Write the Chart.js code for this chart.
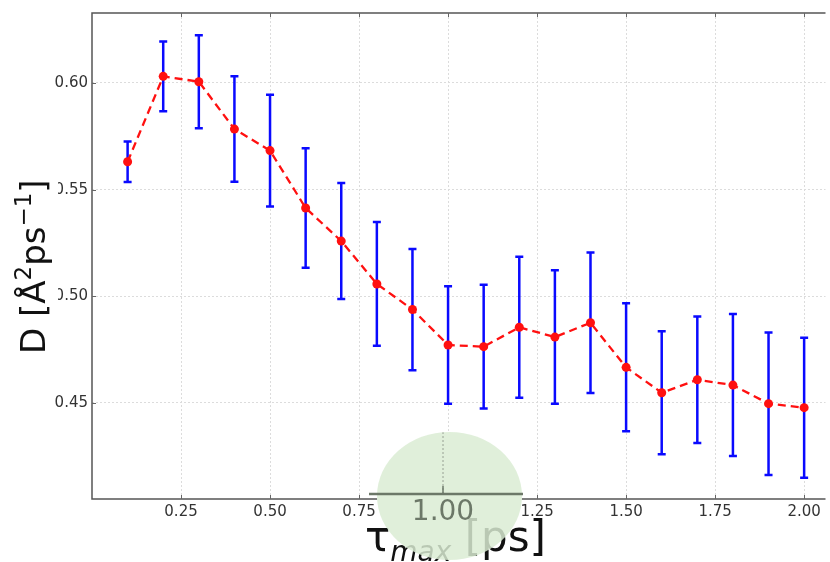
<!DOCTYPE html>
<html>
<head>
<meta charset="utf-8">
<script src="https://cdn.jsdelivr.net/npm/chart.js@4/dist/chart.umd.min.js"></script>
<style>
  html, body { margin: 0; padding: 0; background: #fff; }
  #wrap { width: 830px; height: 562px; position: relative; }
</style>
</head>
<body>
<div id="wrap"><canvas id="c" width="830" height="562"></canvas></div>
<script>
// Diffusion coefficient versus fitting window tau_max
const tau = [0.1, 0.2, 0.3, 0.4, 0.5, 0.6, 0.7, 0.8, 0.9, 1.0,
             1.1, 1.2, 1.3, 1.4, 1.5, 1.6, 1.7, 1.8, 1.9, 2.0];
const diffusion = [0.5631, 0.6031, 0.6006, 0.5784, 0.5683, 0.5414, 0.5259, 0.5058, 0.4938, 0.4772,
                   0.4764, 0.4855, 0.4809, 0.4876, 0.4667, 0.4548, 0.4609, 0.4584, 0.4497, 0.4478];
const errors = [0.0095, 0.0163, 0.0218, 0.0247, 0.0262, 0.0280, 0.0272, 0.0290, 0.0284, 0.0275,
                0.0290, 0.0330, 0.0313, 0.0329, 0.0300, 0.0288, 0.0297, 0.0333, 0.0334, 0.0328];
const xTicks = [0.25, 0.50, 0.75, 1.00, 1.25, 1.50, 1.75, 2.00];
const yTicks = [0.45, 0.50, 0.55, 0.60];
const zoomedTick = 1.00;

const FONT = "'DejaVu Sans', sans-serif";

// vertical error bars with caps, drawn under the line and markers
const errorBars = {
  id: 'errorBars',
  beforeDatasetsDraw(chart) {
    const { ctx, scales: { x, y } } = chart;
    ctx.save();
    ctx.strokeStyle = '#0a0aff';
    ctx.lineWidth = 2.5;
    tau.forEach((t, i) => {
      const px = x.getPixelForValue(t);
      const top = y.getPixelForValue(diffusion[i] + errors[i]);
      const bot = y.getPixelForValue(diffusion[i] - errors[i]);
      ctx.beginPath();
      ctx.moveTo(px, top); ctx.lineTo(px, bot);
      ctx.moveTo(px - 4, top); ctx.lineTo(px + 4, top);
      ctx.moveTo(px - 4, bot); ctx.lineTo(px + 4, bot);
      ctx.stroke();
    });
    ctx.restore();
  }
};

// frame, inward ticks, axis titles and the magnifier over the 1.00 tick
const decorations = {
  id: 'decorations',
  afterDraw(chart) {
    const { ctx, chartArea: a, scales: { x, y } } = chart;
    ctx.save();
    // frame (top, left, bottom)
    ctx.strokeStyle = '#555';
    ctx.lineWidth = 1.5;
    ctx.beginPath();
    ctx.moveTo(a.right, a.top); ctx.lineTo(a.left, a.top);
    ctx.lineTo(a.left, a.bottom); ctx.lineTo(a.right, a.bottom);
    ctx.stroke();
    // inward tick marks
    ctx.lineWidth = 1;
    ctx.strokeStyle = '#666';
    ctx.beginPath();
    xTicks.forEach(v => {
      const px = Math.round(x.getPixelForValue(v)) + 0.5;
      ctx.moveTo(px, a.bottom); ctx.lineTo(px, a.bottom - 4);
      ctx.moveTo(px, a.top); ctx.lineTo(px, a.top + 4);
    });
    yTicks.forEach(v => {
      const py = Math.round(y.getPixelForValue(v)) + 0.5;
      ctx.moveTo(a.left, py); ctx.lineTo(a.left + 4, py);
    });
    ctx.stroke();

    // y axis title on a white box
    ctx.fillStyle = '#fff';
    ctx.fillRect(0, 172, 58, 186);
    ctx.fillStyle = '#111';
    ctx.translate(45, 354);
    ctx.rotate(-Math.PI / 2);
    ctx.textBaseline = 'alphabetic';
    ctx.textAlign = 'left';
    let cx = 0;
    const big = '34px ' + FONT, small = '23px ' + FONT;
    const part = (s, f, dy) => { ctx.font = f; ctx.fillText(s, cx, dy); cx += ctx.measureText(s).width; };
    part('D [Å', big, 0);
    part('2', small, -14);
    part('ps', big, 0);
    part('−1', small, -14);
    part(']', big, 0);
    ctx.setTransform(1, 0, 0, 1, 0, 0);

    // magnifier: white under-disc, x title, translucent green lens
    const lx = 449.5, ly = 496, rx = 72.5, ry = 64;
    const lens = () => { ctx.beginPath(); ctx.ellipse(lx, ly, rx, ry, 0, 0, Math.PI * 2); };
    lens(); ctx.fillStyle = '#fff'; ctx.fill();

    // x axis title
    ctx.fillStyle = '#111';
    ctx.textAlign = 'left';
    const tauF = '42px ' + FONT, subF = 'italic 28px ' + FONT;
    ctx.font = tauF; const w1 = ctx.measureText('τ').width;
    ctx.font = subF; const w2 = ctx.measureText('max').width;
    ctx.font = tauF; const w3 = ctx.measureText(' [ps]').width;
    let sx = 546 - (w1 + w2 + w3);
    const base = 551;
    ctx.font = tauF; ctx.fillText('τ', sx, base); sx += w1;
    ctx.font = subF; ctx.fillText('max', sx, base + 10); sx += w2;
    ctx.font = tauF; ctx.fillText(' [ps]', sx, base);

    lens(); ctx.fillStyle = 'rgba(218, 236, 211, 0.84)'; ctx.fill();

    // enlarged axis detail inside the lens
    const mx = 443;
    ctx.save();
    lens(); ctx.clip();
    ctx.strokeStyle = 'rgba(120,130,118,0.7)';
    ctx.lineWidth = 1;
    ctx.setLineDash([2, 2]);
    ctx.beginPath(); ctx.moveTo(mx, ly - ry); ctx.lineTo(mx, 494); ctx.stroke();
    ctx.restore();
    ctx.setLineDash([]);
    ctx.strokeStyle = '#6c7868';
    ctx.lineWidth = 2.5;
    ctx.beginPath(); ctx.moveTo(369, 494); ctx.lineTo(523, 494); ctx.stroke();
    ctx.lineWidth = 1.5;
    ctx.beginPath(); ctx.moveTo(mx, 494); ctx.lineTo(mx, 486); ctx.stroke();
    ctx.fillStyle = '#6c7868';
    ctx.font = '28px ' + FONT;
    ctx.textAlign = 'center';
    ctx.textBaseline = 'middle';
    ctx.fillText(zoomedTick.toFixed(2), mx, 513);
    ctx.restore();
  }
};

new Chart(document.getElementById('c'), {
  type: 'line',
  data: {
    datasets: [{
      data: tau.map((t, i) => ({ x: t, y: diffusion[i] })),
      borderColor: '#ff1010',
      backgroundColor: '#ff1010',
      borderWidth: 2.3,
      borderDash: [8, 5],
      pointRadius: 4.5,
      pointHoverRadius: 4.5,
      pointBorderWidth: 0,
      tension: 0
    }]
  },
  options: {
    responsive: false,
    animation: false,
    events: [],
    layout: { padding: { top: 13, right: 0, left: 0, bottom: 0 } },
    plugins: { legend: { display: false }, tooltip: { enabled: false } },
    scales: {
      x: {
        type: 'linear',
        min: 0,
        max: 2.06,
        afterBuildTicks(s) { s.ticks = xTicks.map(v => ({ value: v })); },
        afterFit(s) { s.height = 63; },
        border: { display: false, dash: [2, 2] },
        grid: { color: '#dcdcdc', lineWidth: 1, drawTicks: false },
        ticks: {
          padding: 4,
          color: '#333',
          font: { family: FONT, size: 15 },
          maxRotation: 0,
          callback: v => v.toFixed(2)
        }
      },
      y: {
        min: 0.405,
        max: 0.6328,
        afterBuildTicks(s) { s.ticks = yTicks.map(v => ({ value: v })); },
        afterFit(s) { s.width = 92; },
        border: { display: false, dash: [2, 2] },
        grid: { color: '#dcdcdc', lineWidth: 1, drawTicks: false },
        ticks: {
          padding: 4,
          color: '#333',
          font: { family: FONT, size: 15 },
          callback: v => v.toFixed(2)
        }
      }
    }
  },
  plugins: [errorBars, decorations]
});
</script>
</body>
</html>
